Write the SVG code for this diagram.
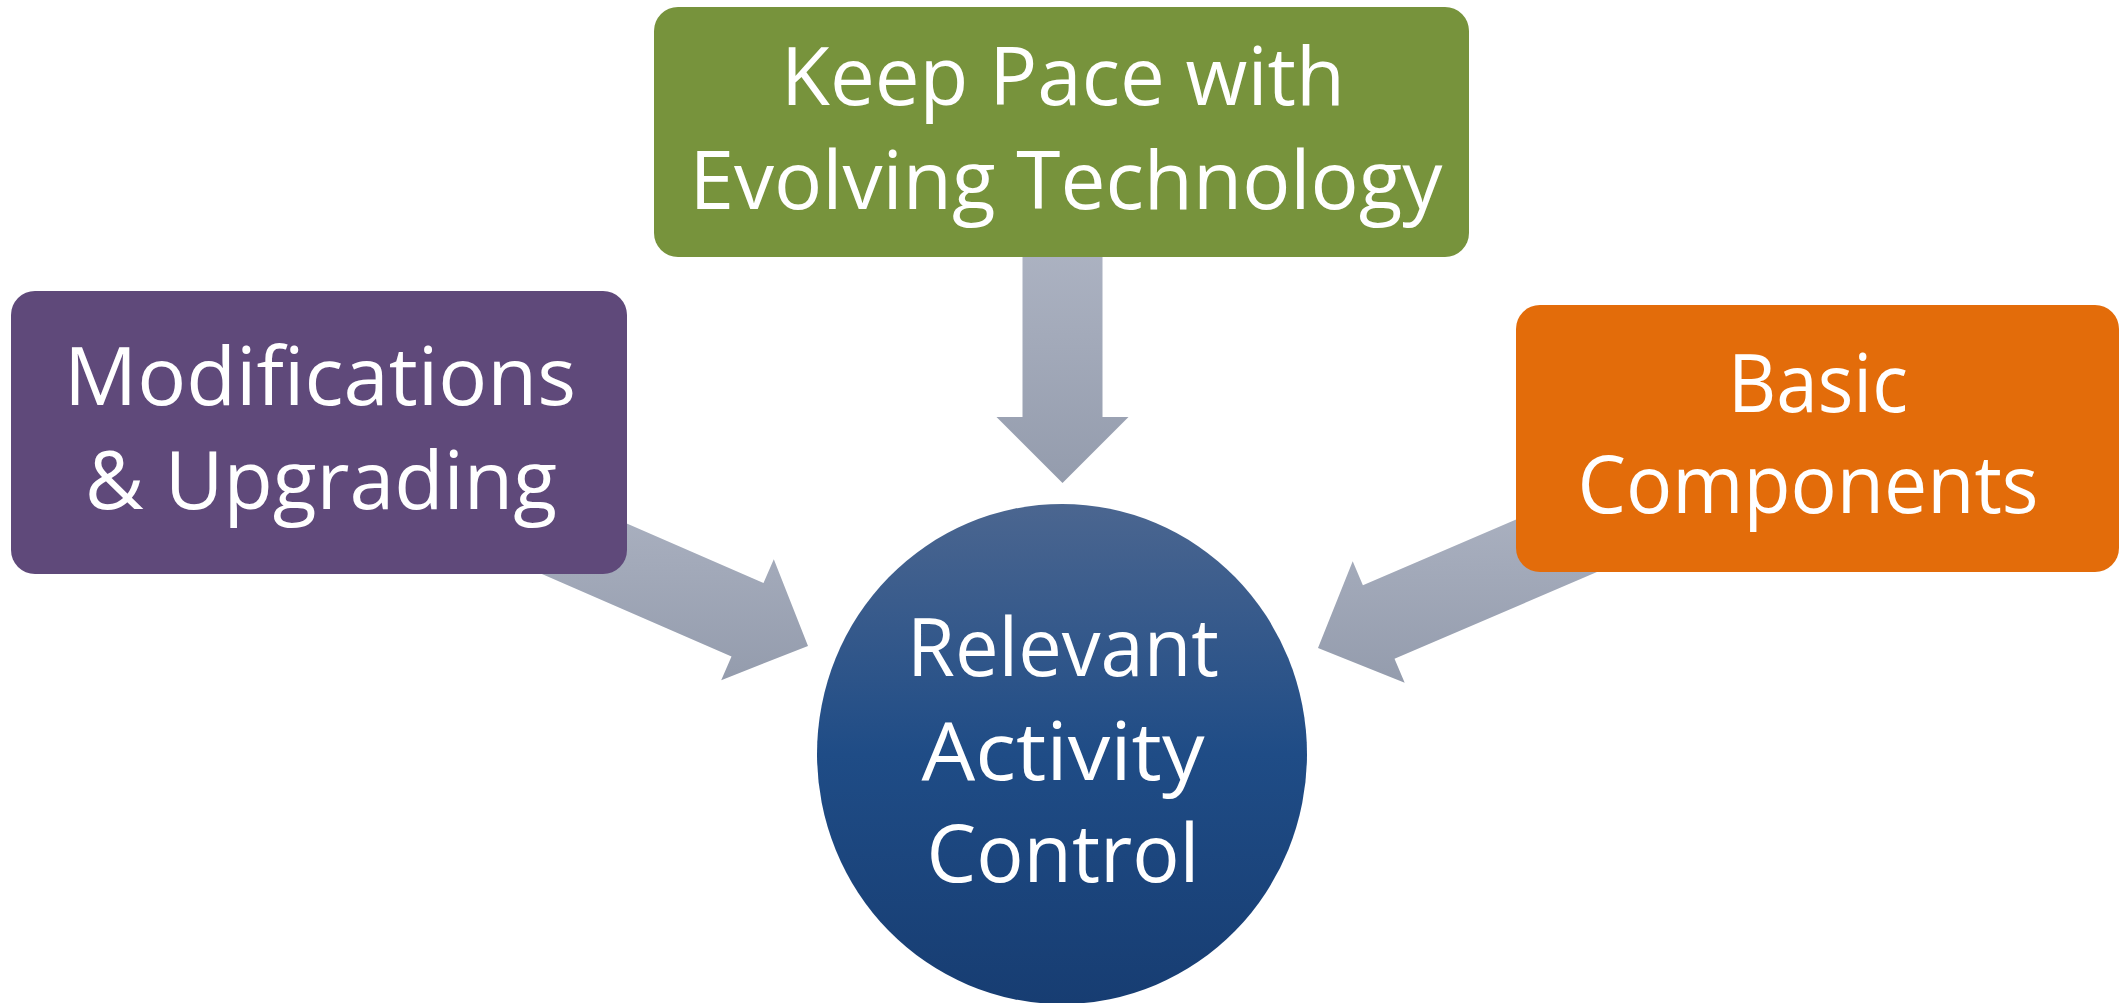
<svg xmlns="http://www.w3.org/2000/svg" width="2119" height="1003" viewBox="0 0 2119 1003">
  <defs>
    <linearGradient id="arrowGrad" x1="0" y1="0" x2="0" y2="1">
      <stop offset="0" stop-color="#b1b7c6"/>
      <stop offset="1" stop-color="#949cad"/>
    </linearGradient>
    <linearGradient id="circleGrad" x1="0" y1="0" x2="0" y2="1">
      <stop offset="0" stop-color="#4b6690"/>
      <stop offset="0.5" stop-color="#1f4c86"/>
      <stop offset="1" stop-color="#173d72"/>
    </linearGradient>
    <style>
      .arrow { fill: url(#arrowGrad); }
      .label { font-family: "Open Sans", "Noto Sans", "Liberation Sans", sans-serif; font-size: 80px; fill: #ffffff; text-anchor: middle; }
    </style>
  </defs>
  <rect width="2119" height="1003" fill="#ffffff"/>

  <g id="connectors">
    <polygon class="arrow" points="1022.5,200 1102.5,200 1102.5,417 1128.5,417 1062.5,483 996.5,417 1022.5,417"/>
    <polygon class="arrow" points="457.2,449.7 763.5,583.0 773.8,559.2 808,646 721.2,680.2 731.5,656.4 425.2,523.1"/>
    <polygon class="arrow" points="1669.8,453.6 1362.9,585.2 1352.7,561.3 1318,648 1404.7,682.7 1394.5,658.8 1701.4,527.2"/>
  </g>

  <g id="node-top">
    <rect x="654" y="7" width="815" height="250" rx="24" fill="#77933c"/>
    <text class="label" x="1063" y="105" textLength="564" lengthAdjust="spacingAndGlyphs">Keep Pace with</text>
    <text class="label" x="1066" y="209" textLength="753" lengthAdjust="spacingAndGlyphs">Evolving Technology</text>
  </g>

  <g id="node-left">
    <rect x="11" y="291" width="616" height="283" rx="24" fill="#5f497a"/>
    <text class="label" x="320" y="405" textLength="512" lengthAdjust="spacingAndGlyphs">Modifications</text>
    <text class="label" x="321" y="509" textLength="472" lengthAdjust="spacingAndGlyphs">&amp; Upgrading</text>
  </g>

  <g id="node-right">
    <rect x="1516" y="305" width="603" height="267" rx="24" fill="#e36c0a"/>
    <text class="label" x="1818" y="412" textLength="180" lengthAdjust="spacingAndGlyphs">Basic</text>
    <text class="label" x="1808" y="513" textLength="461" lengthAdjust="spacingAndGlyphs">Components</text>
  </g>

  <g id="node-center">
    <ellipse cx="1062" cy="754" rx="245" ry="250" fill="url(#circleGrad)"/>
    <text class="label" x="1063" y="676" textLength="312" lengthAdjust="spacingAndGlyphs">Relevant</text>
    <text class="label" x="1063" y="780" textLength="283" lengthAdjust="spacingAndGlyphs">Activity</text>
    <text class="label" x="1063" y="882" textLength="273" lengthAdjust="spacingAndGlyphs">Control</text>
  </g>
</svg>
